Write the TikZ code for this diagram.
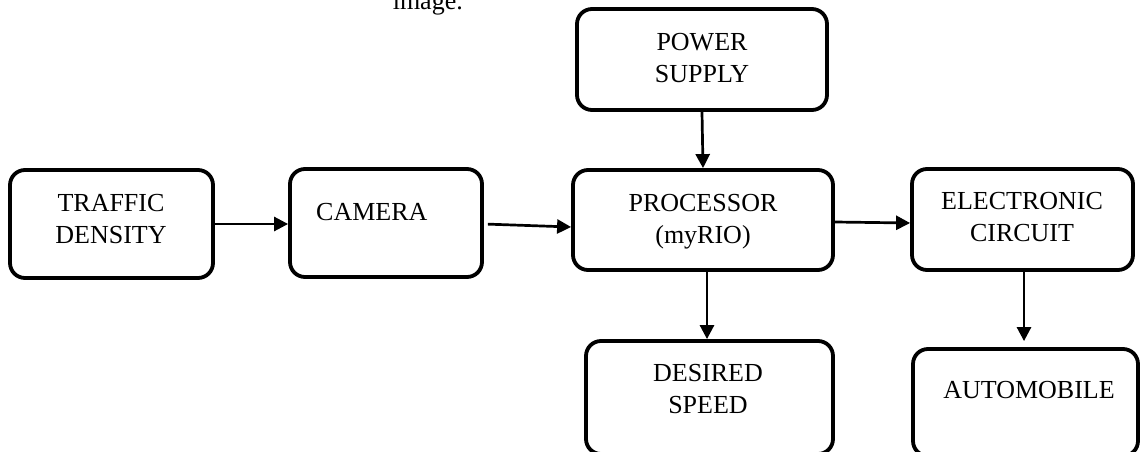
\documentclass[tikz,border=0pt]{standalone}
\usepackage{fontspec}
\setmainfont{Liberation Serif}
\usetikzlibrary{arrows.meta}
\tikzset{
  blk/.style={draw, line width=3.8pt, rounded corners=15pt, inner sep=0pt},
  lbl/.style={inner sep=0pt, align=center, font=\fontsize{26}{32}\selectfont},
  arr/.style={line width=2.7pt, -{Triangle[length=14pt,width=14pt]}}
}
\begin{document}
\begin{tikzpicture}[x=1pt,y=-1pt]
\useasboundingbox (0,0) rectangle (1141,452);
\clip (0,0) rectangle (1141,452);
% boxes
\node[blk, minimum width=203pt, minimum height=108pt] (traffic) at (111.5,224) {};
\node[blk, minimum width=192pt, minimum height=108pt] (camera) at (386,223) {};
\node[blk, minimum width=250pt, minimum height=101pt] (power) at (702,59.5) {};
\node[blk, minimum width=260pt, minimum height=100pt] (proc) at (703,220) {};
\node[blk, minimum width=221pt, minimum height=101pt] (elec) at (1022.5,219.5) {};
\node[blk, minimum width=247pt, minimum height=113pt] (desired) at (709.5,397.5) {};
\node[blk, minimum width=225pt, minimum height=107pt] (auto) at (1025.5,402.5) {};
% labels
\node[lbl] (traffic-t) at (111,219.5) {TRAFFIC\\DENSITY};
\node[lbl, anchor=west] (camera-t) at (316,212) {CAMERA};
\node[lbl] (power-t) at (702,58) {POWER\\SUPPLY};
\node[lbl] (proc-t) at (703,222) {PROCESSOR\\(myRIO)};
\node[lbl] (elec-t) at (1022,217.5) {ELECTRONIC\\CIRCUIT};
\node[lbl] (desired-t) at (708,389.5) {DESIRED\\SPEED};
\node[lbl] (auto-t) at (1029,390) {AUTOMOBILE};
\node[lbl, anchor=base east] (img-t) at (463,10) {image.};
% arrows
\draw[arr] (traffic.east) -- ([yshift=-1pt]camera.west);
\draw[arr, shorten <=4pt] ([yshift=-1pt]camera.east) -- ([yshift=-7pt]proc.west);
\draw[arr] (power.south) -- (proc.north);
\draw[arr] ([yshift=-2pt]proc.east) -- ([yshift=-3.5pt]elec.west);
\draw[arr] ([xshift=4pt]proc.south) -- ([xshift=4pt]proc.south |- desired.north);
\draw[arr, shorten >=6pt] ([xshift=1.5pt]elec.south) -- ([xshift=1.5pt]elec.south |- auto.north);
\end{tikzpicture}
\end{document}
